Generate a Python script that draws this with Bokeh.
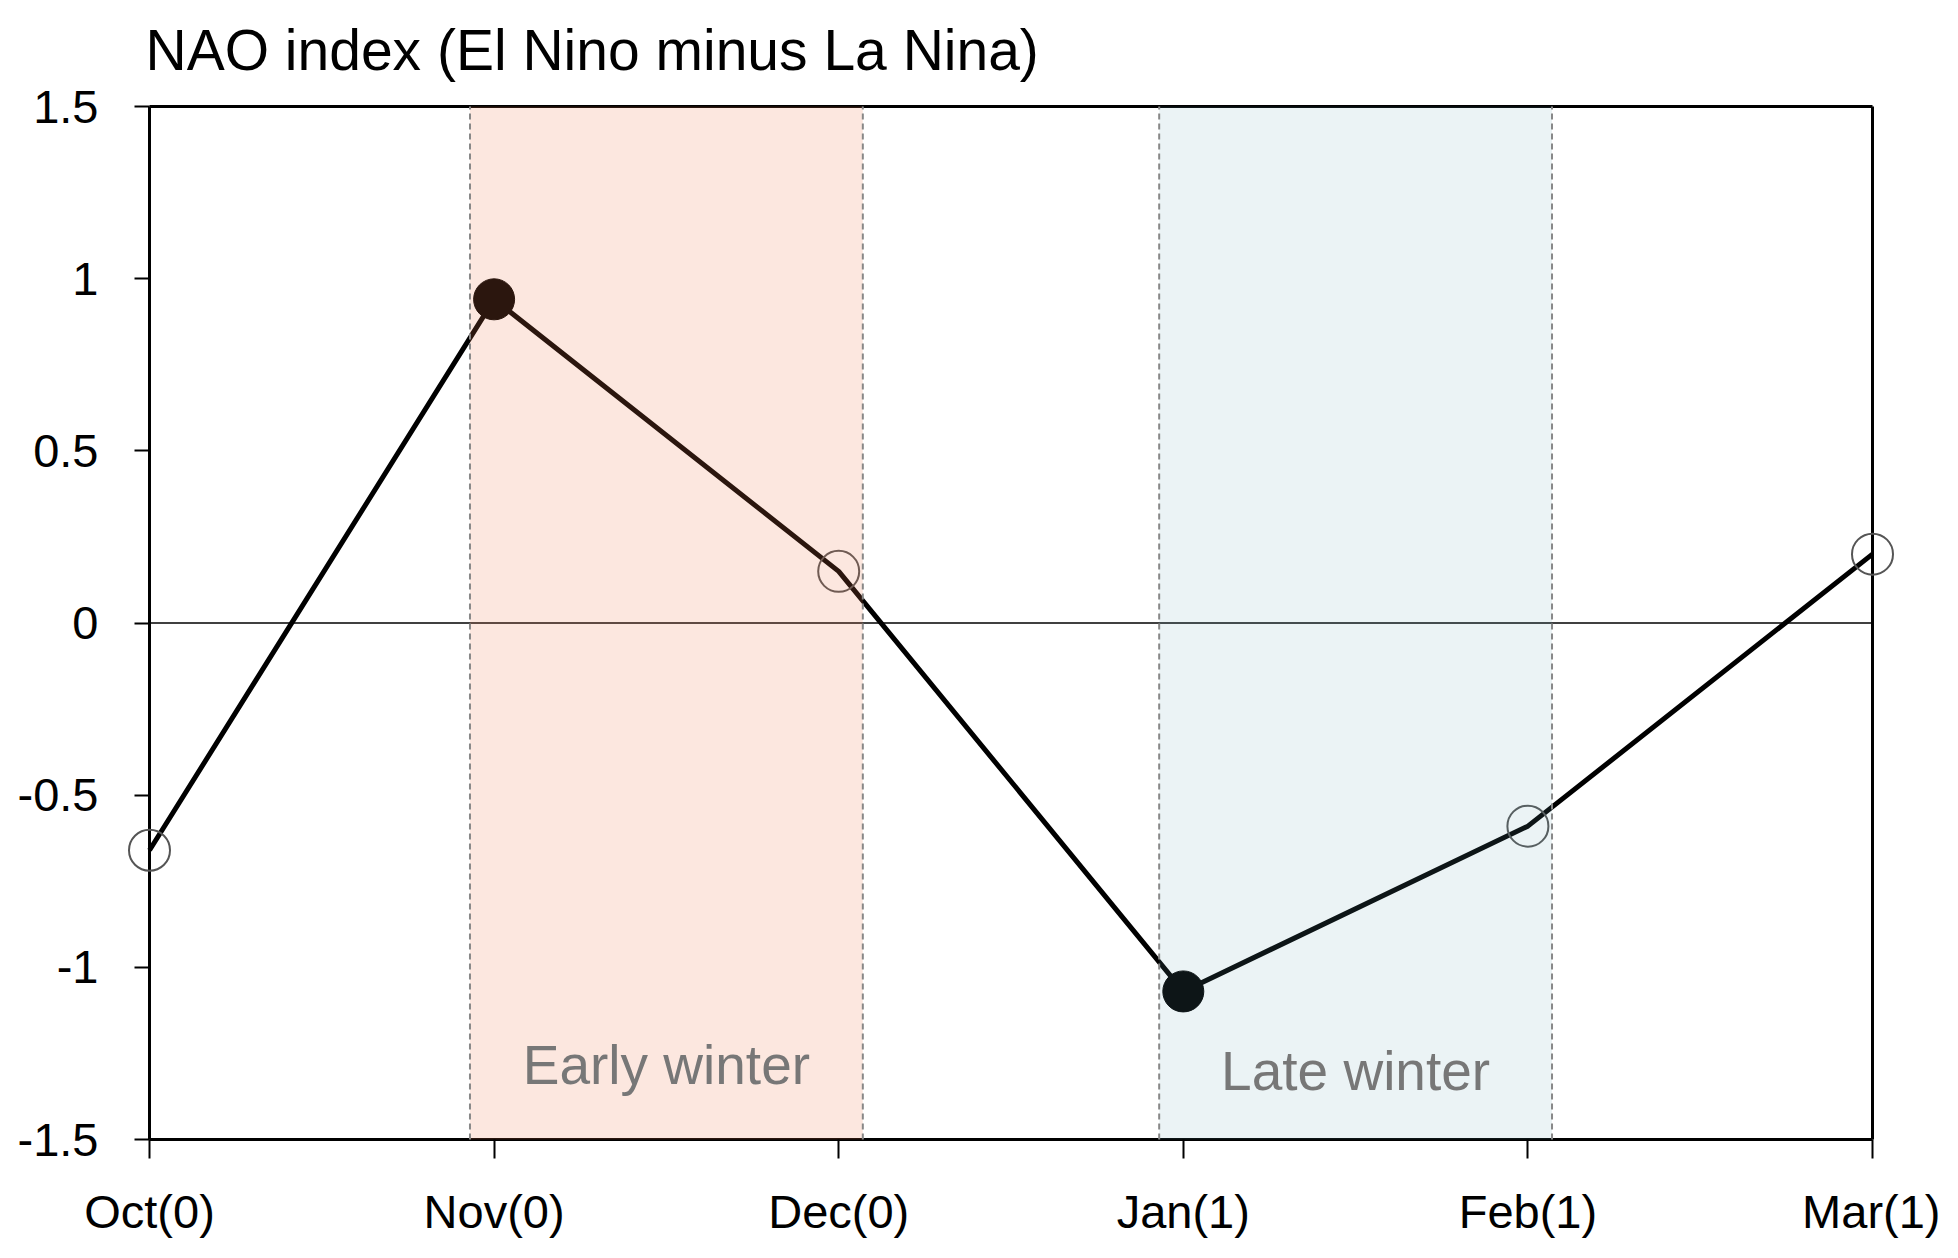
from bokeh.plotting import figure
from bokeh.models import FixedTicker, Range1d, Label, ColumnDataSource
from bokeh.core.properties import value
from bokeh.embed import file_html
from bokeh.resources import INLINE

# ---- data ----
months = ["Oct(0)", "Nov(0)", "Dec(0)", "Jan(1)", "Feb(1)", "Mar(1)"]
nao = [-0.66, 0.94, 0.15, -1.07, -0.59, 0.20]
significant = [False, True, False, True, False, False]
y_ticks = [-1.5, -1.0, -0.5, 0.0, 0.5, 1.0, 1.5]
y_tick_labels = ["-1.5", "-1", "-0.5", "0", "0.5", "1", "1.5"]
periods = ["Early winter", "Late winter"]
period_start = [0.93, 2.93]
period_end = [2.07, 4.07]
period_label_y = [-1.285, -1.30]
period_colors = ["#F07850", "#64A0B4"]
period_alpha = [0.18, 0.13]
title_text = "NAO index (El Nino minus La Nina)"

FONT = "Liberation Sans"

xs = list(range(len(months)))
x0, x1 = xs[0], xs[-1]
y0, y1 = y_ticks[0], y_ticks[-1]

# layout: the frame fills the whole canvas; the data box sits inside it with
# margins (px) so that edge markers and the axes (fixed at the box edges) are
# never clipped.
W, H = 1940, 1248
PL, PR, PT, PB = 149, 68, 106, 109
ppx = (W - PL - PR) / (x1 - x0)
ppy = (H - PT - PB) / (y1 - y0)

p = figure(width=W, height=H, output_backend="svg", toolbar_location=None,
           x_range=Range1d(x0 - PL / ppx, x1 + PR / ppx),
           y_range=Range1d(y0 - PB / ppy, y1 + PT / ppy),
           min_border=0, title_location=None)

p.grid.visible = False
p.background_fill_color = "white"
p.border_fill_color = "white"
p.outline_line_color = None

# axes, pinned to the edges of the data box
p.xaxis.ticker = FixedTicker(ticks=xs)
p.xaxis.major_label_overrides = {i: m for i, m in zip(xs, months)}
p.xaxis.fixed_location = y0
p.yaxis.ticker = FixedTicker(ticks=y_ticks)
p.yaxis.major_label_overrides = {t: l for t, l in zip(y_ticks, y_tick_labels)}
p.yaxis.fixed_location = x0
for ax in (p.xaxis, p.yaxis):
    ax.axis_line_color = None
    ax.major_tick_line_color = "black"
    ax.major_tick_line_width = 2
    ax.minor_tick_line_color = None
    ax.major_tick_in = 0
    ax.major_label_text_font = FONT
    ax.major_label_text_font_size = "47px"
    ax.major_label_text_color = "black"
p.xaxis.major_tick_out = 19
p.xaxis.major_label_standoff = 26
p.yaxis.major_tick_out = 15
p.yaxis.major_label_standoff = 36

# title
p.add_layout(Label(x=x0, y=y1, text=title_text, text_font=FONT, text_font_size="57px",
                   text_color="black", text_align="left", text_baseline="alphabetic",
                   x_offset=-4, y_offset=57))

# frame box of the data area
p.segment(x0=[x0, x0], y0=[y0, y1], x1=[x1, x1], y1=[y0, y1], line_color="black", line_width=3)
p.segment(x0=[x0, x1], y0=[y0, y0], x1=[x0, x1], y1=[y1, y1], line_color="black", line_width=3)

# zero line
p.segment(x0=[x0], y0=[0], x1=[x1], y1=[0], line_color="black", line_width=1.5)

# series
p.line(xs, nao, line_color="black", line_width=5)
sx = [x for x, s in zip(xs, significant) if s]
sy = [v for v, s in zip(nao, significant) if s]
nx = [x for x, s in zip(xs, significant) if not s]
ny = [v for v, s in zip(nao, significant) if not s]
p.scatter(sx, sy, size=41, fill_color="black", line_color="black")
p.scatter(nx, ny, size=41, fill_color=None, line_color="#555555", line_width=2)

# shaded periods (drawn on top, translucent)
src = ColumnDataSource(dict(left=period_start, right=period_end, color=period_colors,
                            alpha=period_alpha, label=periods,
                            mid=[(a + b) / 2 for a, b in zip(period_start, period_end)],
                            ly=period_label_y))
p.quad(left="left", right="right", bottom=y0, top=y1, fill_color="color",
       fill_alpha="alpha", line_color=None, source=src)
edges = period_start + period_end
p.segment(x0=edges, y0=[y0] * len(edges), x1=edges, y1=[y1] * len(edges),
          line_color="#888888", line_width=2, line_dash="6 4")
p.text(x="mid", y="ly", text="label", source=src, text_font=value(FONT),
       text_font_size="55px", text_color="#777777", text_align="center",
       text_baseline="middle")

open("out.html", "w").write(file_html(p, INLINE))
